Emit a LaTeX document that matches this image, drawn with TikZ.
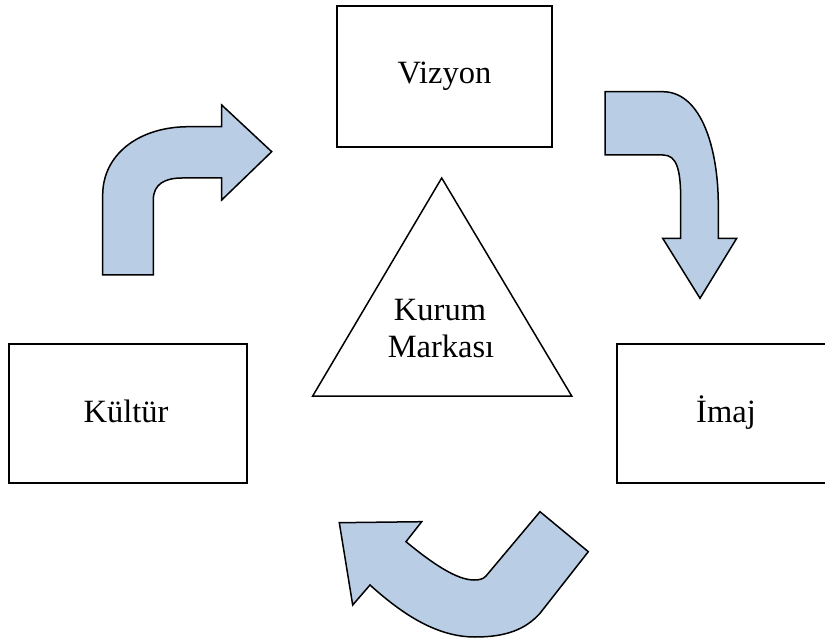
\documentclass[tikz,border=0pt]{standalone}
\usepackage{fontspec}
\setmainfont{Liberation Serif}
\begin{document}
\begin{tikzpicture}[x=1pt,y=-1pt,
  label/.style={font=\fontsize{32.5}{38}\selectfont, inner sep=0pt, anchor=base},
  frame/.style={draw=black, line width=1.9pt, fill=white},
  bent/.style={draw=black, line width=1.5pt, fill=arrowblue, line join=miter}]
\definecolor{arrowblue}{HTML}{B9CDE5}
\useasboundingbox (0,0) rectangle (825,644);
\begin{scope}
\clip (0,0) rectangle (825,644);

% boxes
\draw[frame] (337,6) rectangle (552,147);
\draw[frame] (9,344) rectangle (247,483);
\draw[frame] (617,344) rectangle (835,483);
\node[label] (vizyon) at (444.5,84) {Vizyon};
\node[label] (kultur) at (126,422) {Kültür};
\node[label] (imaj) at (726,422) {İmaj};

% central triangle
\draw[line width=1.5pt, line join=miter] (441.7,178) -- (571.7,396) -- (312.7,396) -- cycle;
\node[label] (kurum) at (440,321) {Kurum};
\node[label] (markasi) at (441,358) {Markası};

% arrow from Kültür up to Vizyon
\draw[bent] (102.7,275) -- (102.7,195)
  .. controls (102.7,155) and (138,127) .. (188,126.7)
  -- (221.7,126.7) -- (221.7,105) -- (271.7,151.7) -- (221.7,200)
  -- (221.7,178) -- (182,178)
  .. controls (165,178) and (153.3,184) .. (153.3,200)
  -- (153.3,275) -- cycle;

% arrow from Vizyon down to İmaj
\draw[bent] (605,91.7) -- (663,91.7)
  .. controls (702,92) and (718.3,150) .. (718.3,205)
  -- (718.3,238.3) -- (736.7,238.3) -- (700,298.3) -- (662.7,238.3)
  -- (680.7,238.3) -- (680.7,200)
  .. controls (680.7,170) and (677,155) .. (663,155)
  -- (605,155) -- cycle;

% arrow from İmaj back round to Kültür
\draw[bent] (339.3,522.7) -- (421.7,521.7) -- (406,541.7)
  .. controls (433,564) and (457,580) .. (474,580)
  .. controls (480,580) and (483,579) .. (486,576)
  -- (540,511.7) -- (588.3,551.7) -- (540,613.3)
  .. controls (525,630) and (505,637) .. (475,637)
  .. controls (435,637) and (400,612) .. (370,585)
  -- (352.7,605) -- cycle;
\end{scope}
\end{tikzpicture}
\end{document}
